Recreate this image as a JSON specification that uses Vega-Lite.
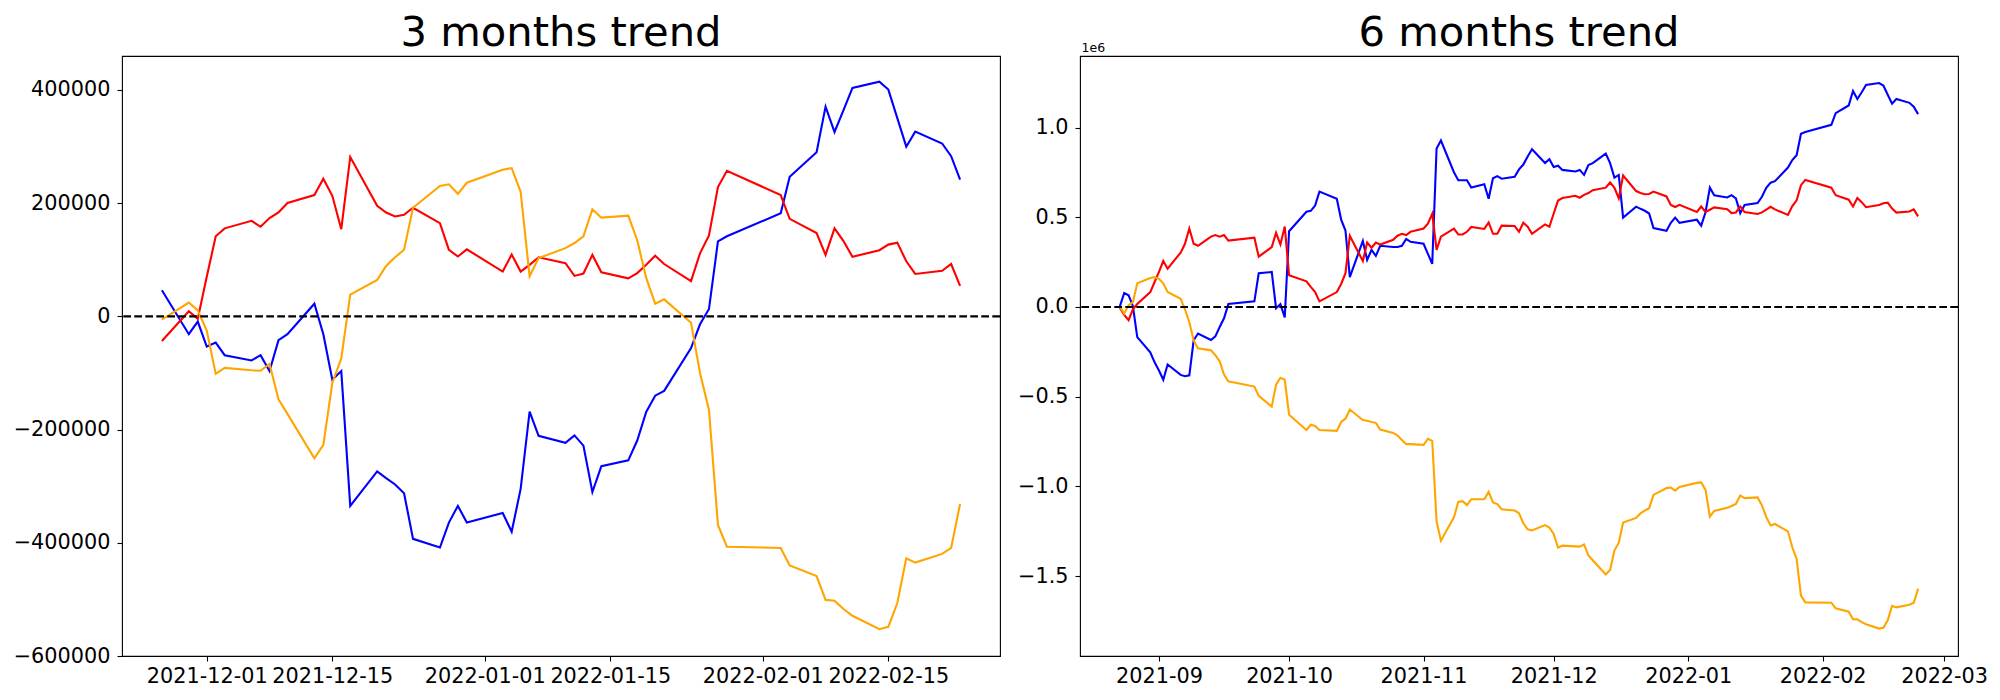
{
"$schema": "https://vega.github.io/schema/vega-lite/v6.json",
"background": "white",
"padding": {"left": 12, "top": 12, "right": 5, "bottom": 5},
"config": {
  "font": "DejaVu Sans",
  "view": {"stroke": "black", "strokeWidth": 1.1},
  "axis": {"grid": false, "domain": false, "tickColor": "black", "tickSize": 5, "tickWidth": 1.1, "labelFontSize": 20.8, "labelColor": "black", "labelFont": "DejaVu Sans"},
  "title": {"fontSize": 41.7, "fontWeight": "normal", "font": "DejaVu Sans", "color": "black", "anchor": "middle", "baseline": "alphabetic", "offset": 1.3, "frame": "group"},
  "concat": {"spacing": 14}
},
"datasets": {
"m3": [
{"d":"2021-11-26","s":"blue","v":46200},{"d":"2021-11-29","s":"blue","v":-31500},{"d":"2021-11-30","s":"blue","v":-9100},{"d":"2021-12-01","s":"blue","v":-53200},{"d":"2021-12-02","s":"blue","v":-46200},{"d":"2021-12-03","s":"blue","v":-68600},{"d":"2021-12-06","s":"blue","v":-77800},{"d":"2021-12-07","s":"blue","v":-68600},{"d":"2021-12-08","s":"blue","v":-96700},{"d":"2021-12-09","s":"blue","v":-42000},{"d":"2021-12-10","s":"blue","v":-31500},{"d":"2021-12-13","s":"blue","v":22400},{"d":"2021-12-14","s":"blue","v":-31500},{"d":"2021-12-15","s":"blue","v":-112000},{"d":"2021-12-16","s":"blue","v":-96700},{"d":"2021-12-17","s":"blue","v":-334800},{"d":"2021-12-20","s":"blue","v":-273900},{"d":"2021-12-21","s":"blue","v":-285800},{"d":"2021-12-22","s":"blue","v":-297000},{"d":"2021-12-23","s":"blue","v":-312400},{"d":"2021-12-24","s":"blue","v":-393000},{"d":"2021-12-27","s":"blue","v":-408400},{"d":"2021-12-28","s":"blue","v":-364300},{"d":"2021-12-29","s":"blue","v":-334800},{"d":"2021-12-30","s":"blue","v":-364300},{"d":"2022-01-03","s":"blue","v":-347400},{"d":"2022-01-04","s":"blue","v":-380400},{"d":"2022-01-05","s":"blue","v":-304700},{"d":"2022-01-06","s":"blue","v":-168100},{"d":"2022-01-07","s":"blue","v":-210900},{"d":"2022-01-10","s":"blue","v":-223500},{"d":"2022-01-11","s":"blue","v":-210200},{"d":"2022-01-12","s":"blue","v":-228400},{"d":"2022-01-13","s":"blue","v":-310300},{"d":"2022-01-14","s":"blue","v":-264800},{"d":"2022-01-17","s":"blue","v":-254300},{"d":"2022-01-18","s":"blue","v":-219300},{"d":"2022-01-19","s":"blue","v":-168800},{"d":"2022-01-20","s":"blue","v":-140100},{"d":"2022-01-21","s":"blue","v":-131700},{"d":"2022-01-24","s":"blue","v":-56000},{"d":"2022-01-25","s":"blue","v":-14000},{"d":"2022-01-26","s":"blue","v":13000},{"d":"2022-01-27","s":"blue","v":132400},{"d":"2022-01-28","s":"blue","v":141500},{"d":"2022-02-03","s":"blue","v":182100},{"d":"2022-02-04","s":"blue","v":246600},{"d":"2022-02-07","s":"blue","v":290000},{"d":"2022-02-08","s":"blue","v":370600},{"d":"2022-02-09","s":"blue","v":325700},{"d":"2022-02-10","s":"blue","v":364300},{"d":"2022-02-11","s":"blue","v":403500},{"d":"2022-02-14","s":"blue","v":414700},{"d":"2022-02-15","s":"blue","v":400700},{"d":"2022-02-16","s":"blue","v":350300},{"d":"2022-02-17","s":"blue","v":299800},{"d":"2022-02-18","s":"blue","v":326400},{"d":"2022-02-21","s":"blue","v":305400},{"d":"2022-02-22","s":"blue","v":283000},{"d":"2022-02-23","s":"blue","v":241700},
{"d":"2021-11-26","s":"red","v":-43400},{"d":"2021-11-29","s":"red","v":9100},{"d":"2021-11-30","s":"red","v":-4200},{"d":"2021-12-01","s":"red","v":70000},{"d":"2021-12-02","s":"red","v":141500},{"d":"2021-12-03","s":"red","v":155500},{"d":"2021-12-06","s":"red","v":168800},{"d":"2021-12-07","s":"red","v":158300},{"d":"2021-12-08","s":"red","v":173700},{"d":"2021-12-09","s":"red","v":183500},{"d":"2021-12-10","s":"red","v":200300},{"d":"2021-12-13","s":"red","v":214400},{"d":"2021-12-14","s":"red","v":243100},{"d":"2021-12-15","s":"red","v":213000},{"d":"2021-12-16","s":"red","v":154100},{"d":"2021-12-17","s":"red","v":281600},{"d":"2021-12-20","s":"red","v":195400},{"d":"2021-12-21","s":"red","v":183500},{"d":"2021-12-22","s":"red","v":176500},{"d":"2021-12-23","s":"red","v":179300},{"d":"2021-12-24","s":"red","v":191900},{"d":"2021-12-27","s":"red","v":164600},{"d":"2021-12-28","s":"red","v":117700},{"d":"2021-12-29","s":"red","v":105800},{"d":"2021-12-30","s":"red","v":118400},{"d":"2022-01-03","s":"red","v":79200},{"d":"2022-01-04","s":"red","v":109300},{"d":"2022-01-05","s":"red","v":79200},{"d":"2022-01-06","s":"red","v":91100},{"d":"2022-01-07","s":"red","v":104400},{"d":"2022-01-10","s":"red","v":93900},{"d":"2022-01-11","s":"red","v":71500},{"d":"2022-01-12","s":"red","v":75700},{"d":"2022-01-13","s":"red","v":108600},{"d":"2022-01-14","s":"red","v":77800},{"d":"2022-01-17","s":"red","v":67200},{"d":"2022-01-18","s":"red","v":76400},{"d":"2022-01-19","s":"red","v":91100},{"d":"2022-01-20","s":"red","v":107200},{"d":"2022-01-21","s":"red","v":92500},{"d":"2022-01-24","s":"red","v":62300},{"d":"2022-01-25","s":"red","v":111400},{"d":"2022-01-26","s":"red","v":142900},{"d":"2022-01-27","s":"red","v":228400},{"d":"2022-01-28","s":"red","v":257100},{"d":"2022-02-03","s":"red","v":214400},{"d":"2022-02-04","s":"red","v":172300},{"d":"2022-02-07","s":"red","v":147100},{"d":"2022-02-08","s":"red","v":108600},{"d":"2022-02-09","s":"red","v":155500},{"d":"2022-02-10","s":"red","v":133100},{"d":"2022-02-11","s":"red","v":105100},{"d":"2022-02-14","s":"red","v":117000},{"d":"2022-02-15","s":"red","v":126800},{"d":"2022-02-16","s":"red","v":130300},{"d":"2022-02-17","s":"red","v":97400},{"d":"2022-02-18","s":"red","v":75000},{"d":"2022-02-21","s":"red","v":80600},{"d":"2022-02-22","s":"red","v":92500},{"d":"2022-02-23","s":"red","v":53900},
{"d":"2021-11-26","s":"orange","v":-5600},{"d":"2021-11-29","s":"orange","v":24500},{"d":"2021-11-30","s":"orange","v":10500},{"d":"2021-12-01","s":"orange","v":-25200},{"d":"2021-12-02","s":"orange","v":-101600},{"d":"2021-12-03","s":"orange","v":-91100},{"d":"2021-12-06","s":"orange","v":-95300},{"d":"2021-12-07","s":"orange","v":-96000},{"d":"2021-12-08","s":"orange","v":-84100},{"d":"2021-12-09","s":"orange","v":-146400},{"d":"2021-12-10","s":"orange","v":-172300},{"d":"2021-12-13","s":"orange","v":-250800},{"d":"2021-12-14","s":"orange","v":-227000},{"d":"2021-12-15","s":"orange","v":-117700},{"d":"2021-12-16","s":"orange","v":-74300},{"d":"2021-12-17","s":"orange","v":38500},{"d":"2021-12-20","s":"orange","v":64400},{"d":"2021-12-21","s":"orange","v":89000},{"d":"2021-12-22","s":"orange","v":104400},{"d":"2021-12-23","s":"orange","v":117700},{"d":"2021-12-24","s":"orange","v":191900},{"d":"2021-12-27","s":"orange","v":230500},{"d":"2021-12-28","s":"orange","v":233300},{"d":"2021-12-29","s":"orange","v":216500},{"d":"2021-12-30","s":"orange","v":236100},{"d":"2022-01-03","s":"orange","v":259200},{"d":"2022-01-04","s":"orange","v":262000},{"d":"2022-01-05","s":"orange","v":220000},{"d":"2022-01-06","s":"orange","v":70800},{"d":"2022-01-07","s":"orange","v":103000},{"d":"2022-01-10","s":"orange","v":120500},{"d":"2022-01-11","s":"orange","v":129600},{"d":"2022-01-12","s":"orange","v":141500},{"d":"2022-01-13","s":"orange","v":189100},{"d":"2022-01-14","s":"orange","v":174400},{"d":"2022-01-17","s":"orange","v":177900},{"d":"2022-01-18","s":"orange","v":134500},{"d":"2022-01-19","s":"orange","v":68000},{"d":"2022-01-20","s":"orange","v":22400},{"d":"2022-01-21","s":"orange","v":30100},{"d":"2022-01-24","s":"orange","v":-11200},{"d":"2022-01-25","s":"orange","v":-100200},{"d":"2022-01-26","s":"orange","v":-165300},{"d":"2022-01-27","s":"orange","v":-368500},{"d":"2022-01-28","s":"orange","v":-407000},{"d":"2022-02-03","s":"orange","v":-409100},{"d":"2022-02-04","s":"orange","v":-439900},{"d":"2022-02-07","s":"orange","v":-458800},{"d":"2022-02-08","s":"orange","v":-500900},{"d":"2022-02-09","s":"orange","v":-502300},{"d":"2022-02-10","s":"orange","v":-517000},{"d":"2022-02-11","s":"orange","v":-528900},{"d":"2022-02-14","s":"orange","v":-552700},{"d":"2022-02-15","s":"orange","v":-548500},{"d":"2022-02-16","s":"orange","v":-506500},{"d":"2022-02-17","s":"orange","v":-427300},{"d":"2022-02-18","s":"orange","v":-435000},{"d":"2022-02-21","s":"orange","v":-419600},{"d":"2022-02-22","s":"orange","v":-409100},{"d":"2022-02-23","s":"orange","v":-331300}
],
"m6": [
{"d":"2021-08-23","s":"blue","v":5000},{"d":"2021-08-24","s":"blue","v":78000},{"d":"2021-08-25","s":"blue","v":65000},{"d":"2021-08-26","s":"blue","v":4000},{"d":"2021-08-27","s":"blue","v":-168000},{"d":"2021-08-30","s":"blue","v":-253000},{"d":"2021-08-31","s":"blue","v":-309000},{"d":"2021-09-01","s":"blue","v":-354000},{"d":"2021-09-02","s":"blue","v":-406000},{"d":"2021-09-03","s":"blue","v":-321000},{"d":"2021-09-06","s":"blue","v":-379000},{"d":"2021-09-07","s":"blue","v":-386000},{"d":"2021-09-08","s":"blue","v":-381000},{"d":"2021-09-09","s":"blue","v":-186000},{"d":"2021-09-10","s":"blue","v":-148000},{"d":"2021-09-13","s":"blue","v":-184000},{"d":"2021-09-14","s":"blue","v":-164000},{"d":"2021-09-15","s":"blue","v":-112000},{"d":"2021-09-16","s":"blue","v":-63000},{"d":"2021-09-17","s":"blue","v":16000},{"d":"2021-09-23","s":"blue","v":31000},{"d":"2021-09-24","s":"blue","v":188000},{"d":"2021-09-27","s":"blue","v":195000},{"d":"2021-09-28","s":"blue","v":-7000},{"d":"2021-09-29","s":"blue","v":16000},{"d":"2021-09-30","s":"blue","v":-58000},{"d":"2021-10-01","s":"blue","v":422000},{"d":"2021-10-05","s":"blue","v":531000},{"d":"2021-10-06","s":"blue","v":536000},{"d":"2021-10-07","s":"blue","v":565000},{"d":"2021-10-08","s":"blue","v":643000},{"d":"2021-10-12","s":"blue","v":603000},{"d":"2021-10-13","s":"blue","v":487000},{"d":"2021-10-14","s":"blue","v":426000},{"d":"2021-10-15","s":"blue","v":166000},{"d":"2021-10-18","s":"blue","v":368000},{"d":"2021-10-19","s":"blue","v":262000},{"d":"2021-10-20","s":"blue","v":318000},{"d":"2021-10-21","s":"blue","v":285000},{"d":"2021-10-22","s":"blue","v":341000},{"d":"2021-10-25","s":"blue","v":334000},{"d":"2021-10-26","s":"blue","v":334000},{"d":"2021-10-27","s":"blue","v":341000},{"d":"2021-10-28","s":"blue","v":379000},{"d":"2021-10-29","s":"blue","v":363000},{"d":"2021-11-01","s":"blue","v":352000},{"d":"2021-11-02","s":"blue","v":296000},{"d":"2021-11-03","s":"blue","v":240000},{"d":"2021-11-04","s":"blue","v":883000},{"d":"2021-11-05","s":"blue","v":928000},{"d":"2021-11-08","s":"blue","v":751000},{"d":"2021-11-09","s":"blue","v":706000},{"d":"2021-11-10","s":"blue","v":706000},{"d":"2021-11-11","s":"blue","v":706000},{"d":"2021-11-12","s":"blue","v":666000},{"d":"2021-11-15","s":"blue","v":684000},{"d":"2021-11-16","s":"blue","v":603000},{"d":"2021-11-17","s":"blue","v":717000},{"d":"2021-11-18","s":"blue","v":729000},{"d":"2021-11-19","s":"blue","v":715000},{"d":"2021-11-22","s":"blue","v":726000},{"d":"2021-11-23","s":"blue","v":767000},{"d":"2021-11-24","s":"blue","v":794000},{"d":"2021-11-25","s":"blue","v":839000},
{"d":"2021-11-26","s":"blue","v":879000},{"d":"2021-11-29","s":"blue","v":802000},{"d":"2021-11-30","s":"blue","v":824000},{"d":"2021-12-01","s":"blue","v":780000},{"d":"2021-12-02","s":"blue","v":787000},{"d":"2021-12-03","s":"blue","v":764000},{"d":"2021-12-06","s":"blue","v":755000},{"d":"2021-12-07","s":"blue","v":764000},{"d":"2021-12-08","s":"blue","v":736000},{"d":"2021-12-09","s":"blue","v":791000},{"d":"2021-12-10","s":"blue","v":802000},{"d":"2021-12-13","s":"blue","v":855000},{"d":"2021-12-14","s":"blue","v":802000},{"d":"2021-12-15","s":"blue","v":721000},{"d":"2021-12-16","s":"blue","v":736000},{"d":"2021-12-17","s":"blue","v":498000},{"d":"2021-12-20","s":"blue","v":559000},{"d":"2021-12-21","s":"blue","v":547000},{"d":"2021-12-22","s":"blue","v":536000},{"d":"2021-12-23","s":"blue","v":521000},{"d":"2021-12-24","s":"blue","v":440000},{"d":"2021-12-27","s":"blue","v":425000},{"d":"2021-12-28","s":"blue","v":469000},{"d":"2021-12-29","s":"blue","v":498000},{"d":"2021-12-30","s":"blue","v":469000},{"d":"2022-01-03","s":"blue","v":486000},{"d":"2022-01-04","s":"blue","v":453000},{"d":"2022-01-05","s":"blue","v":528000},{"d":"2022-01-06","s":"blue","v":665000},{"d":"2022-01-07","s":"blue","v":622000},{"d":"2022-01-10","s":"blue","v":610000},{"d":"2022-01-11","s":"blue","v":623000},{"d":"2022-01-12","s":"blue","v":605000},{"d":"2022-01-13","s":"blue","v":523000},{"d":"2022-01-14","s":"blue","v":568000},{"d":"2022-01-17","s":"blue","v":579000},{"d":"2022-01-18","s":"blue","v":614000},{"d":"2022-01-19","s":"blue","v":664000},{"d":"2022-01-20","s":"blue","v":693000},{"d":"2022-01-21","s":"blue","v":701000},{"d":"2022-01-24","s":"blue","v":777000},{"d":"2022-01-25","s":"blue","v":819000},{"d":"2022-01-26","s":"blue","v":846000},{"d":"2022-01-27","s":"blue","v":965000},{"d":"2022-01-28","s":"blue","v":975000},{"d":"2022-02-03","s":"blue","v":1015000},{"d":"2022-02-04","s":"blue","v":1080000},{"d":"2022-02-07","s":"blue","v":1123000},{"d":"2022-02-08","s":"blue","v":1204000},{"d":"2022-02-09","s":"blue","v":1159000},{"d":"2022-02-10","s":"blue","v":1197000},{"d":"2022-02-11","s":"blue","v":1237000},{"d":"2022-02-14","s":"blue","v":1248000},{"d":"2022-02-15","s":"blue","v":1234000},{"d":"2022-02-16","s":"blue","v":1183000},{"d":"2022-02-17","s":"blue","v":1133000},{"d":"2022-02-18","s":"blue","v":1159000},{"d":"2022-02-21","s":"blue","v":1138000},{"d":"2022-02-22","s":"blue","v":1116000},{"d":"2022-02-23","s":"blue","v":1075000},
{"d":"2021-08-23","s":"red","v":-5000},{"d":"2021-08-24","s":"red","v":-45000},{"d":"2021-08-25","s":"red","v":-74000},{"d":"2021-08-26","s":"red","v":-13000},{"d":"2021-08-27","s":"red","v":16000},{"d":"2021-08-30","s":"red","v":83000},{"d":"2021-08-31","s":"red","v":139000},{"d":"2021-09-01","s":"red","v":195000},{"d":"2021-09-02","s":"red","v":256000},{"d":"2021-09-03","s":"red","v":213000},{"d":"2021-09-06","s":"red","v":303000},{"d":"2021-09-07","s":"red","v":352000},{"d":"2021-09-08","s":"red","v":437000},{"d":"2021-09-09","s":"red","v":352000},{"d":"2021-09-10","s":"red","v":341000},{"d":"2021-09-13","s":"red","v":392000},{"d":"2021-09-14","s":"red","v":401000},{"d":"2021-09-15","s":"red","v":392000},{"d":"2021-09-16","s":"red","v":401000},{"d":"2021-09-17","s":"red","v":370000},{"d":"2021-09-23","s":"red","v":386000},{"d":"2021-09-24","s":"red","v":280000},{"d":"2021-09-27","s":"red","v":334000},{"d":"2021-09-28","s":"red","v":413000},{"d":"2021-09-29","s":"red","v":348000},{"d":"2021-09-30","s":"red","v":448000},{"d":"2021-10-01","s":"red","v":177000},{"d":"2021-10-05","s":"red","v":143000},{"d":"2021-10-06","s":"red","v":112000},{"d":"2021-10-07","s":"red","v":83000},{"d":"2021-10-08","s":"red","v":31000},{"d":"2021-10-12","s":"red","v":83000},{"d":"2021-10-13","s":"red","v":128000},{"d":"2021-10-14","s":"red","v":188000},{"d":"2021-10-15","s":"red","v":397000},{"d":"2021-10-18","s":"red","v":256000},{"d":"2021-10-19","s":"red","v":359000},{"d":"2021-10-20","s":"red","v":330000},{"d":"2021-10-21","s":"red","v":359000},{"d":"2021-10-22","s":"red","v":348000},{"d":"2021-10-25","s":"red","v":374000},{"d":"2021-10-26","s":"red","v":397000},{"d":"2021-10-27","s":"red","v":408000},{"d":"2021-10-28","s":"red","v":401000},{"d":"2021-10-29","s":"red","v":419000},{"d":"2021-11-01","s":"red","v":437000},{"d":"2021-11-02","s":"red","v":464000},{"d":"2021-11-03","s":"red","v":520000},{"d":"2021-11-04","s":"red","v":318000},{"d":"2021-11-05","s":"red","v":392000},{"d":"2021-11-08","s":"red","v":437000},{"d":"2021-11-09","s":"red","v":404000},{"d":"2021-11-10","s":"red","v":404000},{"d":"2021-11-11","s":"red","v":419000},{"d":"2021-11-12","s":"red","v":446000},{"d":"2021-11-15","s":"red","v":435000},{"d":"2021-11-16","s":"red","v":471000},{"d":"2021-11-17","s":"red","v":408000},{"d":"2021-11-18","s":"red","v":408000},{"d":"2021-11-19","s":"red","v":453000},{"d":"2021-11-22","s":"red","v":451000},{"d":"2021-11-23","s":"red","v":419000},{"d":"2021-11-24","s":"red","v":469000},{"d":"2021-11-25","s":"red","v":448000},
{"d":"2021-11-26","s":"red","v":408000},{"d":"2021-11-29","s":"red","v":460000},{"d":"2021-11-30","s":"red","v":447000},{"d":"2021-12-01","s":"red","v":521000},{"d":"2021-12-02","s":"red","v":593000},{"d":"2021-12-03","s":"red","v":607000},{"d":"2021-12-06","s":"red","v":620000},{"d":"2021-12-07","s":"red","v":609000},{"d":"2021-12-08","s":"red","v":625000},{"d":"2021-12-09","s":"red","v":635000},{"d":"2021-12-10","s":"red","v":651000},{"d":"2021-12-13","s":"red","v":665000},{"d":"2021-12-14","s":"red","v":694000},{"d":"2021-12-15","s":"red","v":664000},{"d":"2021-12-16","s":"red","v":605000},{"d":"2021-12-17","s":"red","v":733000},{"d":"2021-12-20","s":"red","v":646000},{"d":"2021-12-21","s":"red","v":635000},{"d":"2021-12-22","s":"red","v":628000},{"d":"2021-12-23","s":"red","v":630000},{"d":"2021-12-24","s":"red","v":643000},{"d":"2021-12-27","s":"red","v":616000},{"d":"2021-12-28","s":"red","v":569000},{"d":"2021-12-29","s":"red","v":557000},{"d":"2021-12-30","s":"red","v":569000},{"d":"2022-01-03","s":"red","v":530000},{"d":"2022-01-04","s":"red","v":560000},{"d":"2022-01-05","s":"red","v":530000},{"d":"2022-01-06","s":"red","v":542000},{"d":"2022-01-07","s":"red","v":555000},{"d":"2022-01-10","s":"red","v":545000},{"d":"2022-01-11","s":"red","v":523000},{"d":"2022-01-12","s":"red","v":527000},{"d":"2022-01-13","s":"red","v":560000},{"d":"2022-01-14","s":"red","v":529000},{"d":"2022-01-17","s":"red","v":518000},{"d":"2022-01-18","s":"red","v":527000},{"d":"2022-01-19","s":"red","v":542000},{"d":"2022-01-20","s":"red","v":558000},{"d":"2022-01-21","s":"red","v":544000},{"d":"2022-01-24","s":"red","v":513000},{"d":"2022-01-25","s":"red","v":562000},{"d":"2022-01-26","s":"red","v":594000},{"d":"2022-01-27","s":"red","v":679000},{"d":"2022-01-28","s":"red","v":708000},{"d":"2022-02-03","s":"red","v":665000},{"d":"2022-02-04","s":"red","v":623000},{"d":"2022-02-07","s":"red","v":598000},{"d":"2022-02-08","s":"red","v":560000},{"d":"2022-02-09","s":"red","v":607000},{"d":"2022-02-10","s":"red","v":584000},{"d":"2022-02-11","s":"red","v":556000},{"d":"2022-02-14","s":"red","v":568000},{"d":"2022-02-15","s":"red","v":578000},{"d":"2022-02-16","s":"red","v":581000},{"d":"2022-02-17","s":"red","v":548000},{"d":"2022-02-18","s":"red","v":526000},{"d":"2022-02-21","s":"red","v":532000},{"d":"2022-02-22","s":"red","v":544000},{"d":"2022-02-23","s":"red","v":505000},
{"d":"2021-08-23","s":"orange","v":0},{"d":"2021-08-24","s":"orange","v":-36000},{"d":"2021-08-25","s":"orange","v":9000},{"d":"2021-08-26","s":"orange","v":27000},{"d":"2021-08-27","s":"orange","v":132000},{"d":"2021-08-30","s":"orange","v":161000},{"d":"2021-08-31","s":"orange","v":166000},{"d":"2021-09-01","s":"orange","v":157000},{"d":"2021-09-02","s":"orange","v":132000},{"d":"2021-09-03","s":"orange","v":83000},{"d":"2021-09-06","s":"orange","v":45000},{"d":"2021-09-07","s":"orange","v":-13000},{"d":"2021-09-08","s":"orange","v":-85000},{"d":"2021-09-09","s":"orange","v":-186000},{"d":"2021-09-10","s":"orange","v":-231000},{"d":"2021-09-13","s":"orange","v":-242000},{"d":"2021-09-14","s":"orange","v":-269000},{"d":"2021-09-15","s":"orange","v":-303000},{"d":"2021-09-16","s":"orange","v":-377000},{"d":"2021-09-17","s":"orange","v":-415000},{"d":"2021-09-23","s":"orange","v":-444000},{"d":"2021-09-24","s":"orange","v":-496000},{"d":"2021-09-27","s":"orange","v":-556000},{"d":"2021-09-28","s":"orange","v":-433000},{"d":"2021-09-29","s":"orange","v":-395000},{"d":"2021-09-30","s":"orange","v":-406000},{"d":"2021-10-01","s":"orange","v":-601000},{"d":"2021-10-05","s":"orange","v":-686000},{"d":"2021-10-06","s":"orange","v":-657000},{"d":"2021-10-07","s":"orange","v":-664000},{"d":"2021-10-08","s":"orange","v":-686000},{"d":"2021-10-12","s":"orange","v":-691000},{"d":"2021-10-13","s":"orange","v":-641000},{"d":"2021-10-14","s":"orange","v":-623000},{"d":"2021-10-15","s":"orange","v":-572000},{"d":"2021-10-18","s":"orange","v":-630000},{"d":"2021-10-19","s":"orange","v":-635000},{"d":"2021-10-20","s":"orange","v":-641000},{"d":"2021-10-21","s":"orange","v":-646000},{"d":"2021-10-22","s":"orange","v":-684000},{"d":"2021-10-25","s":"orange","v":-702000},{"d":"2021-10-26","s":"orange","v":-717000},{"d":"2021-10-27","s":"orange","v":-742000},{"d":"2021-10-28","s":"orange","v":-765000},{"d":"2021-10-29","s":"orange","v":-765000},{"d":"2021-11-01","s":"orange","v":-769000},{"d":"2021-11-02","s":"orange","v":-735000},{"d":"2021-11-03","s":"orange","v":-747000},{"d":"2021-11-04","s":"orange","v":-1195000},{"d":"2021-11-05","s":"orange","v":-1303000},{"d":"2021-11-08","s":"orange","v":-1173000},{"d":"2021-11-09","s":"orange","v":-1087000},{"d":"2021-11-10","s":"orange","v":-1083000},{"d":"2021-11-11","s":"orange","v":-1105000},{"d":"2021-11-12","s":"orange","v":-1072000},{"d":"2021-11-15","s":"orange","v":-1072000},{"d":"2021-11-16","s":"orange","v":-1031000},{"d":"2021-11-17","s":"orange","v":-1090000},{"d":"2021-11-18","s":"orange","v":-1099000},{"d":"2021-11-19","s":"orange","v":-1128000},{"d":"2021-11-22","s":"orange","v":-1135000},{"d":"2021-11-23","s":"orange","v":-1150000},{"d":"2021-11-24","s":"orange","v":-1206000},{"d":"2021-11-25","s":"orange","v":-1240000},
{"d":"2021-11-26","s":"orange","v":-1246000},{"d":"2021-11-29","s":"orange","v":-1216000},{"d":"2021-11-30","s":"orange","v":-1230000},{"d":"2021-12-01","s":"orange","v":-1265000},{"d":"2021-12-02","s":"orange","v":-1342000},{"d":"2021-12-03","s":"orange","v":-1331000},{"d":"2021-12-06","s":"orange","v":-1335000},{"d":"2021-12-07","s":"orange","v":-1336000},{"d":"2021-12-08","s":"orange","v":-1324000},{"d":"2021-12-09","s":"orange","v":-1386000},{"d":"2021-12-10","s":"orange","v":-1412000},{"d":"2021-12-13","s":"orange","v":-1491000},{"d":"2021-12-14","s":"orange","v":-1467000},{"d":"2021-12-15","s":"orange","v":-1358000},{"d":"2021-12-16","s":"orange","v":-1314000},{"d":"2021-12-17","s":"orange","v":-1202000},{"d":"2021-12-20","s":"orange","v":-1176000},{"d":"2021-12-21","s":"orange","v":-1151000},{"d":"2021-12-22","s":"orange","v":-1136000},{"d":"2021-12-23","s":"orange","v":-1122000},{"d":"2021-12-24","s":"orange","v":-1048000},{"d":"2021-12-27","s":"orange","v":-1010000},{"d":"2021-12-28","s":"orange","v":-1007000},{"d":"2021-12-29","s":"orange","v":-1024000},{"d":"2021-12-30","s":"orange","v":-1004000},{"d":"2022-01-03","s":"orange","v":-981000},{"d":"2022-01-04","s":"orange","v":-978000},{"d":"2022-01-05","s":"orange","v":-1020000},{"d":"2022-01-06","s":"orange","v":-1169000},{"d":"2022-01-07","s":"orange","v":-1137000},{"d":"2022-01-10","s":"orange","v":-1120000},{"d":"2022-01-11","s":"orange","v":-1110000},{"d":"2022-01-12","s":"orange","v":-1099000},{"d":"2022-01-13","s":"orange","v":-1051000},{"d":"2022-01-14","s":"orange","v":-1066000},{"d":"2022-01-17","s":"orange","v":-1062000},{"d":"2022-01-18","s":"orange","v":-1106000},{"d":"2022-01-19","s":"orange","v":-1172000},{"d":"2022-01-20","s":"orange","v":-1218000},{"d":"2022-01-21","s":"orange","v":-1210000},{"d":"2022-01-24","s":"orange","v":-1251000},{"d":"2022-01-25","s":"orange","v":-1340000},{"d":"2022-01-26","s":"orange","v":-1405000},{"d":"2022-01-27","s":"orange","v":-1609000},{"d":"2022-01-28","s":"orange","v":-1647000},{"d":"2022-02-03","s":"orange","v":-1649000},{"d":"2022-02-04","s":"orange","v":-1680000},{"d":"2022-02-07","s":"orange","v":-1699000},{"d":"2022-02-08","s":"orange","v":-1741000},{"d":"2022-02-09","s":"orange","v":-1742000},{"d":"2022-02-10","s":"orange","v":-1757000},{"d":"2022-02-11","s":"orange","v":-1769000},{"d":"2022-02-14","s":"orange","v":-1793000},{"d":"2022-02-15","s":"orange","v":-1789000},{"d":"2022-02-16","s":"orange","v":-1747000},{"d":"2022-02-17","s":"orange","v":-1667000},{"d":"2022-02-18","s":"orange","v":-1675000},{"d":"2022-02-21","s":"orange","v":-1660000},{"d":"2022-02-22","s":"orange","v":-1649000},{"d":"2022-02-23","s":"orange","v":-1571000}
]
},
"hconcat": [
{
  "title": {"text": "3 months trend", "offset": 1.3},
  "width": 878, "height": 600,
  "layer": [
    {
      "data": {"name": "m3"},
      "mark": {"type": "line", "strokeWidth": 2.1},
      "encoding": {
        "x": {"field": "d", "type": "temporal",
          "scale": {"type": "utc", "domain": [{"year": 2021, "month": 11, "date": 21, "hours": 13, "minutes": 12, "utc": true}, {"year": 2022, "month": 2, "date": 27, "hours": 10, "minutes": 48, "utc": true}]},
          "axis": {"title": null, "format": "%Y-%m-%d", "labelPadding": 5, "labelFlush": false, "labelOverlap": false,
            "values": [{"year": 2021, "month": 12, "date": 1, "utc": true}, {"year": 2021, "month": 12, "date": 15, "utc": true}, {"year": 2022, "month": 1, "date": 1, "utc": true}, {"year": 2022, "month": 1, "date": 15, "utc": true}, {"year": 2022, "month": 2, "date": 1, "utc": true}, {"year": 2022, "month": 2, "date": 15, "utc": true}]}},
        "y": {"field": "v", "type": "quantitative",
          "scale": {"domain": [-600000, 460000], "nice": false, "zero": false},
          "axis": {"title": null, "values": [-600000, -400000, -200000, 0, 200000, 400000], "format": "d", "labelPadding": 7}},
        "color": {"field": "s", "type": "nominal", "scale": {"domain": ["blue", "red", "orange"], "range": ["#0000ff", "#ff0000", "#ffa500"]}, "legend": null}
      }
    },
    {
      "data": {"values": [{}]},
      "mark": {"type": "rule", "color": "black", "strokeDash": [7.7, 3.3], "strokeWidth": 2.1},
      "encoding": {"y": {"datum": 0}}
    }
  ]
},
{
  "title": {"text": "6 months trend", "offset": -13.1},
  "width": 878, "height": 600,
  "layer": [
    {
      "data": {"name": "m6"},
      "mark": {"type": "line", "strokeWidth": 2.1},
      "encoding": {
        "x": {"field": "d", "type": "temporal",
          "scale": {"type": "utc", "domain": [{"year": 2021, "month": 8, "date": 13, "hours": 19, "minutes": 12, "utc": true}, {"year": 2022, "month": 3, "date": 4, "hours": 4, "minutes": 48, "utc": true}]},
          "axis": {"title": null, "format": "%Y-%m", "labelPadding": 5, "labelFlush": false, "labelOverlap": false,
            "values": [{"year": 2021, "month": 9, "date": 1, "utc": true}, {"year": 2021, "month": 10, "date": 1, "utc": true}, {"year": 2021, "month": 11, "date": 1, "utc": true}, {"year": 2021, "month": 12, "date": 1, "utc": true}, {"year": 2022, "month": 1, "date": 1, "utc": true}, {"year": 2022, "month": 2, "date": 1, "utc": true}, {"year": 2022, "month": 3, "date": 1, "utc": true}]}},
        "y": {"field": "v", "type": "quantitative",
          "scale": {"domain": [-1946000, 1399000], "nice": false, "zero": false},
          "axis": {"values": [-1500000, -1000000, -500000, 0, 500000, 1000000], "labelExpr": "format(datum.value / 1000000, '.1f')", "labelPadding": 7,
            "title": "1e6", "titleAngle": 0, "titleX": 1, "titleY": -4.5, "titleAlign": "left", "titleBaseline": "alphabetic", "titleFontSize": 12.5, "titleFontWeight": "normal", "titleFont": "DejaVu Sans", "titleColor": "black"}},
        "color": {"field": "s", "type": "nominal", "scale": {"domain": ["blue", "red", "orange"], "range": ["#0000ff", "#ff0000", "#ffa500"]}, "legend": null}
      }
    },
    {
      "data": {"values": [{}]},
      "mark": {"type": "rule", "color": "black", "strokeDash": [7.7, 3.3], "strokeWidth": 2.1},
      "encoding": {"y": {"datum": 0}}
    }
  ]
}
]
}
